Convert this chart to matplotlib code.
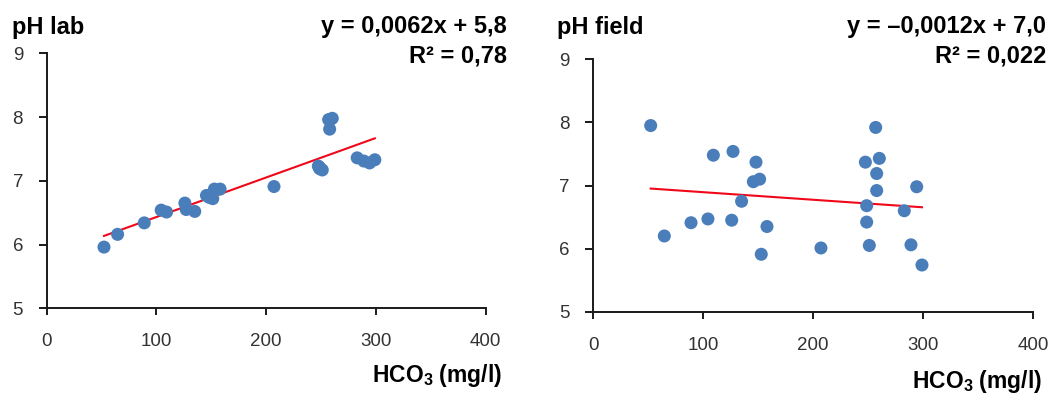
import matplotlib.pyplot as plt
import numpy as np

plt.rcParams['font.family'] = ['Liberation Sans', 'DejaVu Sans']
plt.rcParams['mathtext.fontset'] = 'custom'
plt.rcParams['mathtext.rm'] = 'Liberation Sans'
plt.rcParams['mathtext.bf'] = 'Liberation Sans:bold'
plt.rcParams['mathtext.default'] = 'bf'

hco3 = [52.2, 64.6, 88.9, 104.3, 109.2, 125.9, 127.1, 134.9, 145.6, 148.0, 151.3, 152.8, 158.0,
        207.1, 247.5, 248.7, 248.7, 251.1, 256.9, 257.8, 257.8, 260.2, 282.9, 289.0, 294.2, 299.0]
ph_lab = [5.96, 6.16, 6.34, 6.54, 6.51, 6.65, 6.55, 6.52, 6.77, 6.74, 6.72, 6.87, 6.87,
          6.91, 7.23, 7.21, 7.19, 7.17, 7.96, 7.81, 7.95, 7.98, 7.36, 7.31, 7.28, 7.33]
ph_field = [7.95, 6.20, 6.41, 6.47, 7.48, 6.45, 7.54, 6.75, 7.06, 7.37, 7.10, 5.91, 6.35,
            6.01, 7.37, 6.68, 6.42, 6.05, 7.92, 7.19, 6.92, 7.43, 6.60, 6.06, 6.98, 5.74]

xticks = [0, 100, 200, 300, 400]
yticks = [5, 6, 7, 8, 9]

W, H = 1048, 394
fig = plt.figure(figsize=(W / 100, H / 100), dpi=100)


def px(x, y):
    return x / W, 1 - y / H


def panel(rect, y, title, eq, r2, title_xy, eq_right, xlab_xy):
    ax = fig.add_axes(rect)
    x = np.array(hco3)
    y = np.array(y)
    ax.scatter(x, y, s=88, color='#4A7EBB', edgecolors='none', zorder=3)
    k, b = np.polyfit(x, y, 1)
    xl = np.array([x.min(), x.max()])
    ax.plot(xl, k * xl + b, color='#F0081A', lw=1.5, zorder=2)

    ax.set_xlim(0, 400)
    ax.set_ylim(5, 9)
    ax.set_xticks(xticks)
    ax.set_yticks(yticks)
    for s in ['top', 'right']:
        ax.spines[s].set_visible(False)
    for s in ['left', 'bottom']:
        ax.spines[s].set_linewidth(1.4)
        ax.spines[s].set_color('#1a1a1a')
    ax.tick_params(axis='x', length=5, width=1.4, pad=13, labelsize=13.5,
                   labelcolor='#333333', color='#1a1a1a')
    ax.tick_params(axis='y', length=6, width=1.4, pad=11, labelsize=13.5,
                   labelcolor='#333333', color='#1a1a1a')

    fig.text(*px(*title_xy), title, ha='left', va='baseline', fontsize=17, fontweight='bold')
    fig.text(*px(eq_right, 33), eq, ha='right', va='baseline', fontsize=17, fontweight='bold')
    fig.text(*px(eq_right, 62), r2, ha='right', va='baseline', fontsize=17, fontweight='bold')
    fig.text(*px(*xlab_xy), 'HCO$_3$ (mg/l)', ha='right', va='baseline',
             fontsize=16.5, fontweight='bold')
    return ax


panel([46.7 / W, 1 - 308.3 / H, 439 / W, 255 / H], ph_lab, 'pH lab',
      'y = 0,0062x + 5,8', 'R² = 0,78', (12, 34), 507, (502, 382))
panel([593.3 / W, 1 - 311.7 / H, 439.7 / W, 252.4 / H], ph_field, 'pH field',
      'y = –0,0012x + 7,0', 'R² = 0,022', (557, 34), 1046, (1042, 388))

fig.savefig('out.png', dpi=100)
